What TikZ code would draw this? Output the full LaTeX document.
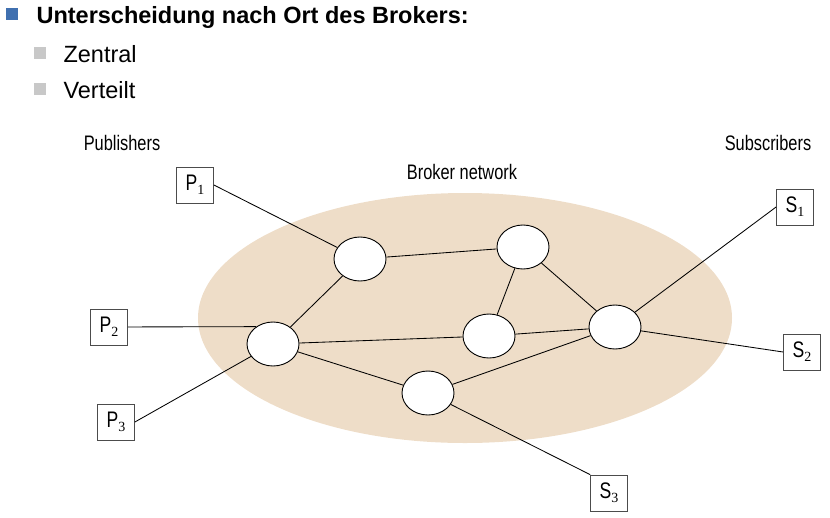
\documentclass[tikz,border=0pt]{standalone}
\usepackage{fontspec}
\setmainfont{Liberation Sans}
\newfontfamily\narrowfont[FakeStretch=0.78]{Liberation Sans}
\newfontfamily\subfont{Liberation Serif}
\usetikzlibrary{positioning, shapes.geometric}
\definecolor{brokertan}{HTML}{EEDDC8}
\definecolor{bulletblue}{HTML}{4070B0}
\definecolor{bulletgray}{HTML}{C8C8C8}
\newcommand{\peer}[2]{{\narrowfont #1}\raisebox{-0.35ex}{\subfont\fontsize{14}{14}\selectfont #2}}
\tikzset{
x=1pt, y=-1pt, % one unit is one pixel of the slide
network/.style={ellipse, fill=brokertan, minimum width=534pt, minimum height=250pt, inner sep=0pt}, % the broker network area
broker/.style={ellipse, draw, fill=white, line width=0.9pt, minimum width=52pt, minimum height=44pt, inner sep=0pt}, % sets the properties for each broker
peerbox/.style={draw=black!70, fill=white, line width=0.8pt, minimum width=37pt, minimum height=36pt, inner sep=0pt, font=\fontsize{22.5}{22.5}\selectfont}, % publishers and subscribers
sidelabel/.style={font=\narrowfont\fontsize{21}{24}\selectfont},
bullet/.style={minimum size=12pt, inner sep=0pt},
link/.style={line width=0.85pt},
}
\begin{document}
\begin{tikzpicture}
    \useasboundingbox (0,0) rectangle (830,517);

    % slide text
    \node[bullet, fill=bulletblue] (bt) at (12,14) {};
    \node[anchor=base west, font=\bfseries\fontsize{23.5}{28}\selectfont] (title) at (33,23) {Unterscheidung nach Ort des Brokers:};
    \node[bullet, fill=bulletgray] (bz) at (39.5,52.5) {};
    \node[anchor=base west, font=\fontsize{23.5}{28}\selectfont] (zentral) at (60,62) {Zentral};
    \node[bullet, fill=bulletgray] (bv) at (39.5,89) {};
    \node[anchor=base west, font=\fontsize{23.5}{28}\selectfont] (verteilt) at (60,98) {Verteilt};

    % labels
    \node[network] (net) at (465,318) {};
    \node[sidelabel] (pub) at (122,143) {Publishers};
    \node[sidelabel] (sub) at (768,143) {Subscribers};
    \node[sidelabel] (bn) at (462,172) {Broker network};

    % brokers
    \node[broker] (b1) at (360,259) {};
    \node[broker] (b2) at (523,247) {};
    \node[broker] (b3) at (273,344) {};
    \node[broker] (b4) at (489,336) {};
    \node[broker] (b5) at (615,327) {};
    \node[broker] (b6) at (428,393) {};

    % publishers and subscribers
    \node[peerbox] (p1) at (195,185) {\peer{P}{1}};
    \node[peerbox] (p2) at (109,327) {\peer{P}{2}};
    \node[peerbox] (p3) at (116,422) {\peer{P}{3}};
    \node[peerbox] (s1) at (795,207) {\peer{S}{1}};
    \node[peerbox] (s2) at (802,352) {\peer{S}{2}};
    \node[peerbox] (s3) at (609,493) {\peer{S}{3}};

    \draw[link]
    (p1.east) -- (b1)
    (p2) -- (b3.134)
    (p3.east) -- (b3);

    \draw[link]
    (b3) -- (b1)
    (b1) -- (b2)
    (b2) -- (b4)
    (b2) -- (b5)
    (b3) -- (b4)
    (b4) -- (b5)
    (b3) -- (b6)
    (b6) -- (b5);

    \draw[link]
    (b5) -- (s1.west)
    (b5) -- (s2.west)
    (b6) -- (s3.north west);
\end{tikzpicture}
\end{document}
